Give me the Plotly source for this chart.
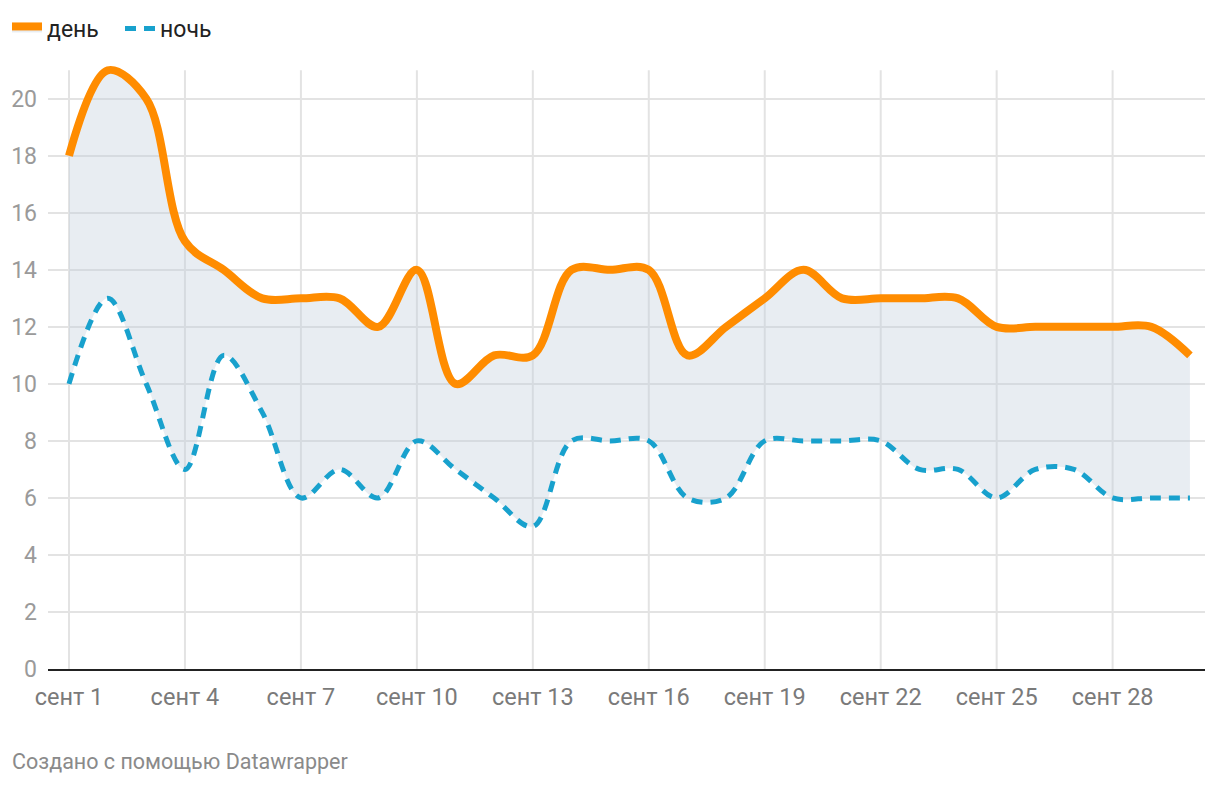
import plotly.graph_objects as go

days = list(range(1, 31))
day_temp = [18, 21, 20, 15, 14, 13, 13, 13, 12, 14, 10, 11, 11, 14, 14, 14, 11, 12, 13, 14,
            13, 13, 13, 13, 12, 12, 12, 12, 12, 11]
night_temp = [10, 13, 10, 7, 11, 9, 6, 7, 6, 8, 7, 6, 5, 8, 8, 8, 6, 6, 8, 8,
              8, 8, 7, 7, 6, 7, 7, 6, 6, 6]
x_tick_vals = [1, 4, 7, 10, 13, 16, 19, 22, 25, 28]
x_tick_text = ["сент 1", "сент 4", "сент 7", "сент 10", "сент 13", "сент 16",
               "сент 19", "сент 22", "сент 25", "сент 28"]
y_tick_vals = [0, 2, 4, 6, 8, 10, 12, 14, 16, 18, 20]

ORANGE = "#ff8c00"
BLUE = "#18a1cd"
FONT = "Roboto"

fig = go.Figure()
fig.add_trace(go.Scatter(
    x=days, y=night_temp, name="ночь", mode="lines",
    line=dict(color=BLUE, width=5, dash="11px,8px", shape="spline", smoothing=1.0),
    legendrank=2, hoverinfo="skip",
))
fig.add_trace(go.Scatter(
    x=days, y=day_temp, name="день", mode="lines",
    line=dict(color=ORANGE, width=8, shape="spline", smoothing=1.0),
    fill="tonexty", fillcolor="rgba(195,208,222,0.38)",
    legendrank=1, hoverinfo="skip",
))

shapes = []
for v in x_tick_vals:
    shapes.append(dict(type="line", xref="x", yref="y", x0=v, x1=v, y0=0, y1=21,
                       line=dict(color="#e3e3e3", width=2), layer="below"))

fig.update_layout(
    width=1220, height=786,
    margin=dict(l=48, r=15, t=56, b=117, autoexpand=False),
    paper_bgcolor="white", plot_bgcolor="white",
    font=dict(family=FONT, size=23, color="#222222"),
    showlegend=True,
    legend=dict(orientation="h", xref="container", yref="container",
                x=7 / 1220, y=1 - 7 / 786, xanchor="left", yanchor="top",
                traceorder="normal", entrywidth=68, entrywidthmode="pixels",
                font=dict(family=FONT, size=23, color="#222222"),
                itemwidth=30, tracegroupgap=0, bgcolor="rgba(0,0,0,0)"),
    xaxis=dict(range=[0.457, 30.39], tickmode="array", tickvals=x_tick_vals,
               ticktext=x_tick_text, showgrid=False, zeroline=False,
               showline=True, linecolor="#222222", linewidth=2,
               ticks="", ticklabelstandoff=6,
               tickfont=dict(family=FONT, size=23.5, color="#7a7a7a")),
    yaxis=dict(range=[0, 21.5], tickmode="array", tickvals=y_tick_vals,
               showgrid=True, gridcolor="#e3e3e3", gridwidth=2, zeroline=False,
               ticks="", ticklabelstandoff=10,
               tickfont=dict(family=FONT, size=23, color="#9a9a9a")),
    shapes=shapes,
    annotations=[dict(text="Создано с помощью Datawrapper", xref="paper", yref="paper",
                      x=-38 / 1157, y=-(762 - 669.5) / 613, xanchor="left", yanchor="middle",
                      showarrow=False, font=dict(family=FONT, size=21.5, color="#8a8a8a"))],
)

fig.write_html("out.html")
